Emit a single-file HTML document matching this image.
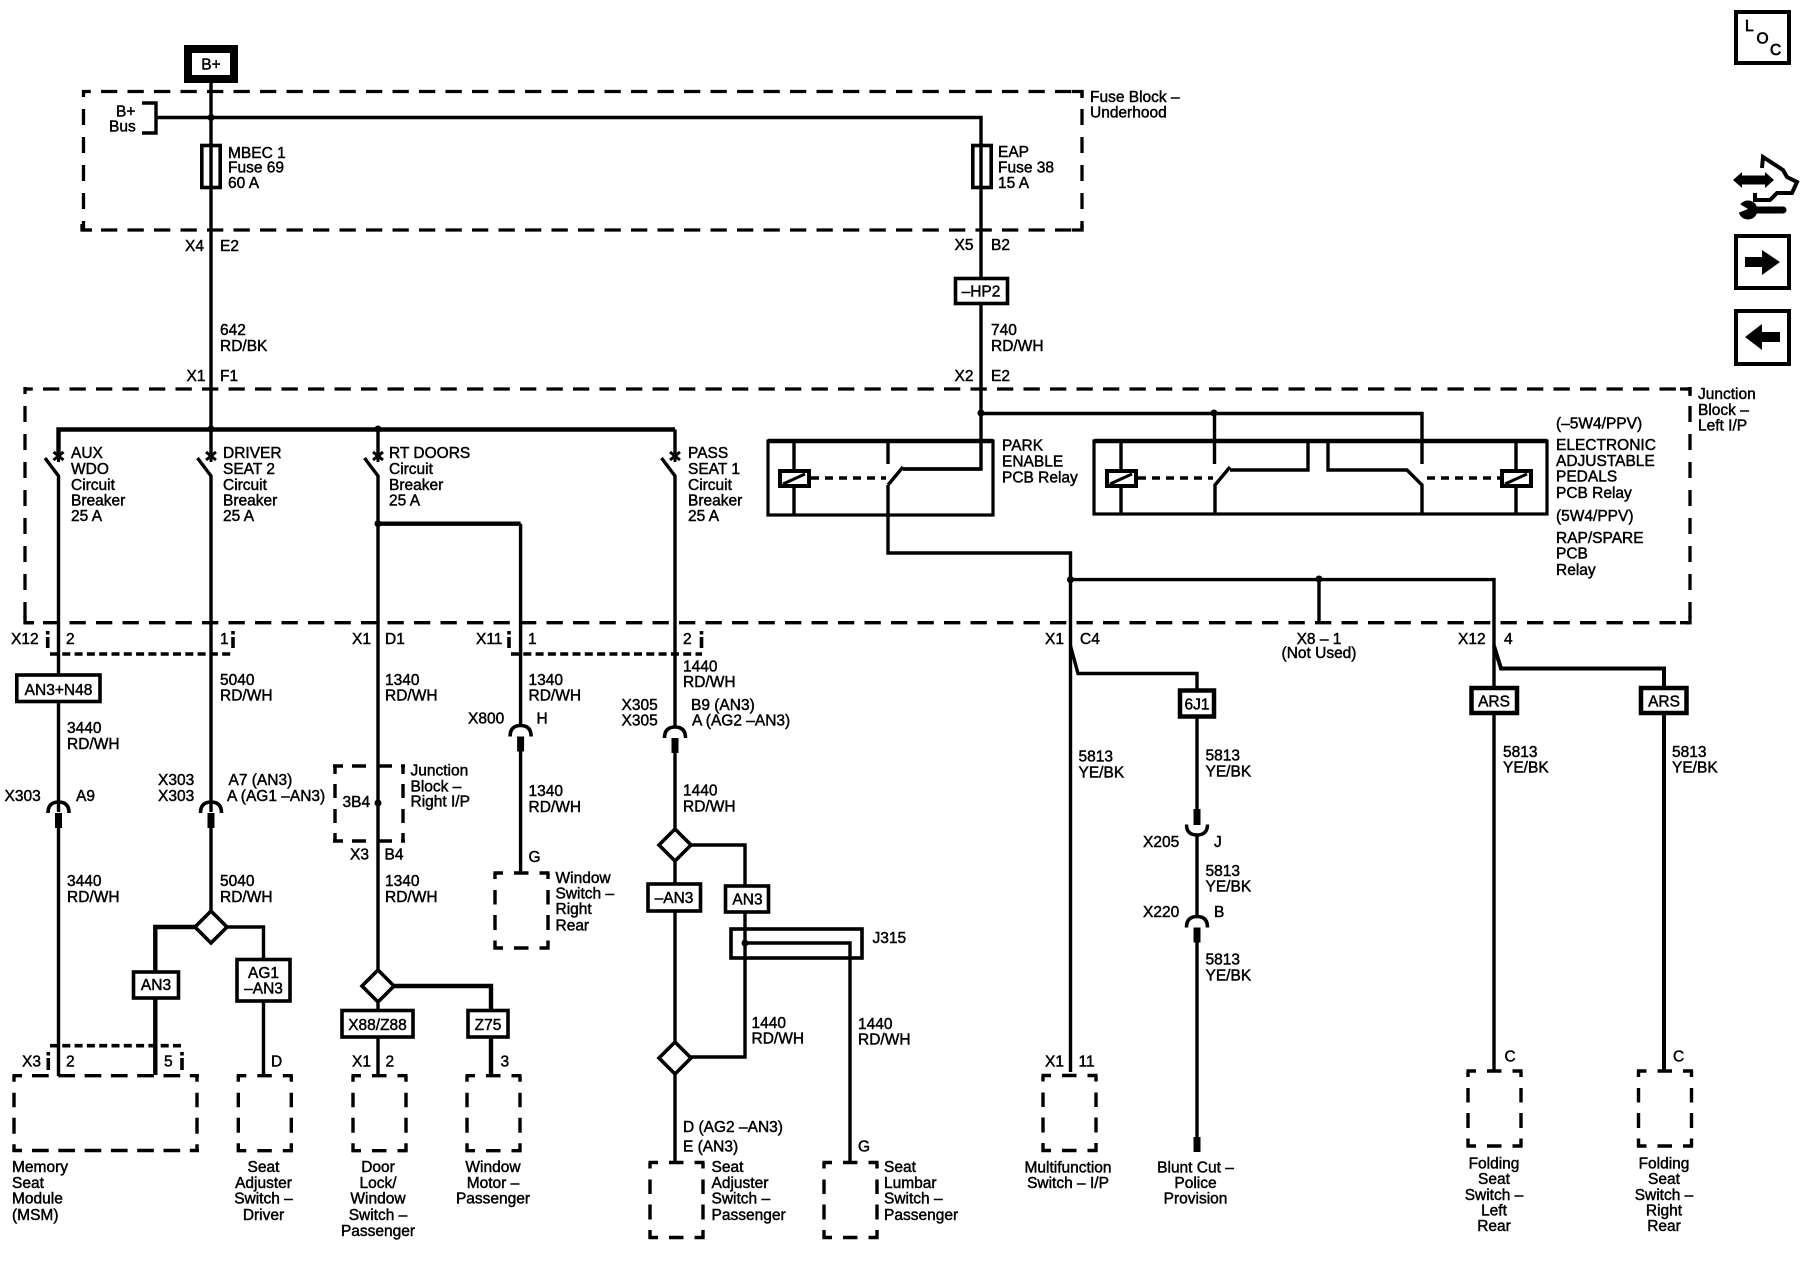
<!DOCTYPE html>
<html><head><meta charset="utf-8"><title>Wiring Diagram</title>
<style>
html,body{margin:0;padding:0;background:#fff}
svg{display:block}
text{font-family:"Liberation Sans",sans-serif;font-size:15.5px;fill:#000;stroke:#000;stroke-width:.45px}
.m{text-anchor:middle}.e{text-anchor:end}
.w{fill:none;stroke:#000;stroke-width:3.4;stroke-linejoin:miter}
.k{fill:none;stroke:#000;stroke-width:4.4}
.p{fill:none;stroke:#000;stroke-width:7}
.b{fill:#fff;stroke:#000;stroke-width:3.6}
.h{fill:none;stroke:#000;stroke-width:3.3;stroke-dasharray:16.3 10.2;stroke-dashoffset:7.5}
.v{fill:none;stroke:#000;stroke-width:3.3;stroke-dasharray:16 12;stroke-dashoffset:9}
.d{fill:none;stroke:#000;stroke-width:3.6;stroke-dasharray:8 4.3}
.c{fill:none;stroke:#000;stroke-width:3.3}
</style></head>
<body>
<svg xmlns="http://www.w3.org/2000/svg" width="1800" height="1280" viewBox="0 0 1800 1280">
<defs>
<g id="sb" fill="none" stroke="#000" stroke-width="3.4">
<path d="M-1.5,0H54.5" stroke-dasharray="9.5 11 14.5 11 10"/><path d="M-1.5,75H54.5" stroke-dasharray="9.5 11 14.5 11 10"/>
<path d="M0,0V76" stroke-dasharray="6 11 14.5 10.5 15 10.5 8.5"/><path d="M53,0V76" stroke-dasharray="6 11 14.5 10.5 15 10.5 8.5"/>
</g>
<path id="star" d="M-5,-4L5,4M5,-4L-5,4M0,-6V6" fill="none" stroke="#000" stroke-width="3"/>
<g id="arc"><path d="M-10.5,11Q-10.5,0 0,0Q10.5,0 10.5,11" fill="none" stroke="#000" stroke-width="3.6"/><path d="M0,11V26" stroke="#000" stroke-width="7"/></g>
<path id="dia" d="M0,-16L16,0L0,16L-16,0Z" fill="#fff" stroke="#000" stroke-width="3.6"/>
<g id="coil"><rect x="1" y="1" width="29" height="15" fill="#fff" stroke="#000" stroke-width="4"/><path d="M4,14L26,4" stroke="#000" stroke-width="3"/></g>
</defs>

<!-- B+ -->
<rect x="188" y="49" width="46" height="30" fill="#fff" stroke="#000" stroke-width="8"/>
<text class="m" x="211" y="69.5">B+</text>

<!-- Fuse block -->
<path class="h" d="M82,91.5H1082"/><path class="h" d="M82,230H1082"/>
<path class="v" d="M83.5,90V230"/><path class="v" d="M1082,90V230"/>
<path class="c" d="M1072,91.5H1082V98M1072,230H1082V224M82,224V230H92"/>

<path class="w" d="M142,103H156V133H142"/>
<path class="w" d="M156,117.5H981V469H903"/>
<path class="w" d="M211,83V430"/>
<circle cx="211" cy="117.5" r="3.5"/>
<rect x="201.8" y="145.5" width="18.4" height="42" class="b" style="fill:none"/>
<rect x="972.8" y="145.5" width="18.4" height="42" class="b" style="fill:none"/>

<text x="116" y="116.5">B+</text><text x="109" y="131.5">Bus</text>
<text x="228"><tspan x="228" y="158">MBEC 1</tspan><tspan x="228" y="172.5">Fuse 69</tspan><tspan x="228" y="188">60 A</tspan></text>
<text><tspan x="998" y="157">EAP</tspan><tspan x="998" y="172.5">Fuse 38</tspan><tspan x="998" y="188">15 A</tspan></text>
<text><tspan x="1090" y="102">Fuse Block –</tspan><tspan x="1090" y="117.5">Underhood</tspan></text>
<text x="185" y="251">X4</text><text x="220" y="251">E2</text>
<text x="954.5" y="250">X5</text><text x="991" y="250">B2</text>
<rect class="b" x="955.5" y="278.5" width="52" height="25"/>
<text class="m" x="981" y="296.5">–HP2</text>
<text><tspan x="220" y="335">642</tspan><tspan x="220" y="351">RD/BK</tspan></text>
<text><tspan x="991" y="335">740</tspan><tspan x="991" y="351">RD/WH</tspan></text>
<text x="186.5" y="381">X1</text><text x="220" y="381">F1</text>
<text x="954.5" y="381">X2</text><text x="991" y="381">E2</text>

<!-- Junction block left -->
<path class="h" d="M24,389H1690"/><path class="h" d="M24,622.7H1690"/>
<path class="v" d="M25,387V623"/><path class="v" d="M1690,387V623"/>
<path class="c" d="M1680,389H1690V396M1680,622.7H1690V616M25,616V622.7H34"/>
<text><tspan x="1698" y="399">Junction</tspan><tspan x="1698" y="415">Block –</tspan><tspan x="1698" y="430.5">Left I/P</tspan></text>

<!-- Top bus and breakers -->
<path class="k" d="M58.5,453V429.5H675"/>
<path class="w" d="M675,429.5V453M211,430V453M378,430V453"/>
<circle cx="211" cy="429" r="3.5"/><circle cx="378" cy="429" r="3.5"/>
<use href="#star" x="58.5" y="456"/><use href="#star" x="211" y="456"/><use href="#star" x="378" y="456"/><use href="#star" x="675" y="456"/>
<path class="w" d="M45,458L58.5,476V812M197.5,458L211,476V812M364.5,458L378,476V971M661.5,458L675,476V726"/>
<path class="k" d="M378,523.7H520.6"/>
<path class="w" d="M520.6,523.7V725"/>
<circle cx="378" cy="523.7" r="3.5"/>

<text><tspan x="71" y="458">AUX</tspan><tspan x="71" y="474">WDO</tspan><tspan x="71" y="490">Circuit</tspan><tspan x="71" y="505.5">Breaker</tspan><tspan x="71" y="521">25 A</tspan></text>
<text><tspan x="223" y="458">DRIVER</tspan><tspan x="223" y="474">SEAT 2</tspan><tspan x="223" y="490">Circuit</tspan><tspan x="223" y="505.5">Breaker</tspan><tspan x="223" y="521">25 A</tspan></text>
<text><tspan x="389" y="458">RT DOORS</tspan><tspan x="389" y="474">Circuit</tspan><tspan x="389" y="490">Breaker</tspan><tspan x="389" y="505.5">25 A</tspan></text>
<text><tspan x="688" y="458">PASS</tspan><tspan x="688" y="474">SEAT 1</tspan><tspan x="688" y="490">Circuit</tspan><tspan x="688" y="505.5">Breaker</tspan><tspan x="688" y="521">25 A</tspan></text>

<!-- Relay 1 -->
<rect x="768" y="441" width="225" height="74" fill="none" stroke="#000" stroke-width="3.2"/>
<path d="M768,441H993" stroke="#000" stroke-width="4.5"/>
<path class="w" d="M794,441V515"/>
<use href="#coil" x="779" y="470"/>
<path class="d" d="M811,478H886" style="stroke-dasharray:8 6"/>
<path class="w" d="M888,441V464M888,485L903,467M903,469H981M888,485V553H1070.5V1072"/>

<!-- Relay 2 -->
<rect x="1094" y="441" width="453" height="73" fill="none" stroke="#000" stroke-width="3.2"/>
<path d="M1094,441H1547" stroke="#000" stroke-width="4.5"/>
<path class="w" d="M1121,441V514M1516,441V514"/>
<use href="#coil" x="1106" y="470"/><use href="#coil" x="1501" y="470"/>
<path class="d" d="M1138,478H1213" style="stroke-dasharray:8 6"/>
<path class="d" d="M1427,478H1500" style="stroke-dasharray:8 6"/>
<path class="w" d="M981,413.5H1422V464M1214.5,413.5V464M1215,514V485L1230,467M1230,470H1308V441M1328,441V470H1407L1422,485V514"/>
<circle cx="981" cy="413" r="3.5"/><circle cx="1214" cy="413" r="3.5"/>
<text><tspan x="1002" y="450.5">PARK</tspan><tspan x="1002" y="466.5">ENABLE</tspan><tspan x="1002" y="482.5">PCB Relay</tspan></text>
<text x="1556" y="428.5">(–5W4/PPV)</text>
<text><tspan x="1556" y="450">ELECTRONIC</tspan><tspan x="1556" y="466">ADJUSTABLE</tspan><tspan x="1556" y="481.5">PEDALS</tspan><tspan x="1556" y="498">PCB Relay</tspan></text>
<text x="1556" y="521">(5W4/PPV)</text>
<text><tspan x="1556" y="543">RAP/SPARE</tspan><tspan x="1556" y="558.5">PCB</tspan><tspan x="1556" y="575">Relay</tspan></text>

<path class="w" d="M1070.5,579.6H1494V1071M1319,579.6V623"/>
<circle cx="1070.5" cy="579.6" r="3.5"/><circle cx="1319" cy="579" r="3.5"/>

<!-- Row of pin labels -->
<text x="11" y="644">X12</text><text x="66" y="644">2</text><text x="220" y="644">1</text>
<text x="352" y="644">X1</text><text x="385" y="644">D1</text><text x="476" y="644">X11</text><text x="528" y="644">1</text><text x="683" y="644">2</text>
<text x="1045" y="644">X1</text><text x="1080" y="644">C4</text><text class="m" x="1319" y="644">X8 – 1</text><text class="m" x="1319" y="658">(Not Used)</text><text x="1458" y="644">X12</text><text x="1504" y="644">4</text>

<!-- Small dashed connector bands -->
<path class="d" d="M50,654H232"/><path class="d" d="M511,654H702"/>
<path class="d" d="M47.7,631V648" style="stroke-dasharray:3.5 2.5 11 0"/><path class="d" d="M233,631V648" style="stroke-dasharray:3.5 2.5 11 0"/>
<path class="d" d="M509,631V648" style="stroke-dasharray:3.5 2.5 11 0"/><path class="d" d="M701.5,631V648" style="stroke-dasharray:3.5 2.5 11 0"/>

<!-- Column 1 -->
<rect class="b" x="16.8" y="675" width="83.2" height="26.5"/>
<text class="m" x="58.5" y="695">AN3+N48</text>
<text><tspan x="67" y="733">3440</tspan><tspan x="67" y="749">RD/WH</tspan></text>
<text x="4.5" y="801">X303</text><text x="76" y="801">A9</text>
<use href="#arc" x="58.5" y="802"/>
<path class="w" d="M58.5,828V1076"/>
<text><tspan x="67" y="886">3440</tspan><tspan x="67" y="902">RD/WH</tspan></text>
<!-- Column 2 -->
<text><tspan x="220" y="685">5040</tspan><tspan x="220" y="700.5">RD/WH</tspan></text>
<text><tspan x="158" y="785">X303</tspan><tspan x="158" y="801">X303</tspan></text>
<text x="228.5" y="785">A7 (AN3)</text><text x="227" y="801">A (AG1 –AN3)</text>
<use href="#arc" x="211" y="802"/>
<path class="w" d="M211,828V911"/>
<text><tspan x="220" y="886">5040</tspan><tspan x="220" y="902">RD/WH</tspan></text>
<path class="k" d="M211,927H155.3V972"/><path class="w" d="M211,927H263.5V960"/>
<use href="#dia" x="211" y="927"/>
<rect class="b" x="133.5" y="972" width="45" height="26"/><text class="m" x="156" y="990">AN3</text>
<path class="k" d="M155.3,998V1075"/>
<rect class="b" x="237" y="959.5" width="53" height="41.5"/><text class="m" x="263.5" y="978">AG1</text><text class="m" x="263.5" y="993.5">–AN3</text>
<path class="w" d="M263.5,1001V1076"/>
<!-- Memory connector -->
<path class="d" d="M50,1045.7H181"/><path class="d" d="M48.3,1052V1070" style="stroke-dasharray:3.5 2.5 12 0"/><path class="d" d="M182,1052V1070" style="stroke-dasharray:3.5 2.5 12 0"/>
<text x="22" y="1066.5">X3</text><text x="66" y="1066.5">2</text><text x="164" y="1066.5">5</text>
<path d="M12.5,1075.7H199" fill="none" stroke="#000" stroke-width="3.4" stroke-dasharray="9.5 10 16.7 9.6 16.7 9.6 16.7 9.6 16.7 9.6 16.7 9.6 16.7 9.6 10"/>
<path d="M12.5,1150.5H199" fill="none" stroke="#000" stroke-width="3.4" stroke-dasharray="9.5 10 16.7 9.6 16.7 9.6 16.7 9.6 16.7 9.6 16.7 9.6 16.7 9.6 10"/>
<path d="M14,1075.7V1152" fill="none" stroke="#000" stroke-width="3.4" stroke-dasharray="6 11 14.5 10.5 16 10.5 8.5"/>
<path d="M197,1075.7V1152" fill="none" stroke="#000" stroke-width="3.4" stroke-dasharray="6 11 14.5 10.5 16 10.5 8.5"/>
<text><tspan x="12" y="1172">Memory</tspan><tspan x="12" y="1188">Seat</tspan><tspan x="12" y="1203.5">Module</tspan><tspan x="12" y="1220">(MSM)</tspan></text>
<use href="#sb" x="238.3" y="1075.7"/>
<text x="271" y="1066.5">D</text>
<text class="m"><tspan x="263.5" y="1172">Seat</tspan><tspan x="263.5" y="1188">Adjuster</tspan><tspan x="263.5" y="1203.5">Switch –</tspan><tspan x="263.5" y="1220">Driver</tspan></text>

<!-- Column 3 -->
<text><tspan x="385" y="685">1340</tspan><tspan x="385" y="700.5">RD/WH</tspan></text>
<g fill="none" stroke="#000" stroke-width="3.4">
<path d="M333,766H405" stroke-dasharray="10 9 14 12 14 9 10"/><path d="M333,841H405" stroke-dasharray="10 9 14 12 14 9 10"/>
<path d="M335,766V841" stroke-dasharray="8 10 14 11 14 10 8"/><path d="M403,766V841" stroke-dasharray="8 10 14 11 14 10 8"/>
</g>
<circle cx="378" cy="803" r="3.5"/>
<text x="342.5" y="807">3B4</text>
<text><tspan x="410.5" y="775.5">Junction</tspan><tspan x="410.5" y="791.5">Block –</tspan><tspan x="410.5" y="806.5">Right I/P</tspan></text>
<text x="350" y="859.5">X3</text><text x="384.5" y="859.5">B4</text>
<text><tspan x="385" y="886">1340</tspan><tspan x="385" y="902">RD/WH</tspan></text>
<path class="k" d="M378,986H491V1010"/>
<use href="#dia" x="378" y="986"/>
<path class="w" d="M378,1002V1076"/>
<rect class="b" x="342" y="1010.5" width="71" height="26.5"/><text class="m" x="377.5" y="1030">X88/Z88</text>
<rect class="b" x="468" y="1010.5" width="40" height="26.5"/><text class="m" x="488" y="1030">Z75</text>
<path class="k" d="M491,1037V1076"/>
<text x="352" y="1066.5">X1</text><text x="385.5" y="1066.5">2</text><text x="500.5" y="1066.5">3</text>
<use href="#sb" x="353" y="1075.7"/><use href="#sb" x="467" y="1075.7"/>
<text class="m"><tspan x="378" y="1172">Door</tspan><tspan x="378" y="1188">Lock/</tspan><tspan x="378" y="1203.5">Window</tspan><tspan x="378" y="1220">Switch –</tspan><tspan x="378" y="1236">Passenger</tspan></text>
<text class="m"><tspan x="493" y="1172">Window</tspan><tspan x="493" y="1188">Motor –</tspan><tspan x="493" y="1203.5">Passenger</tspan></text>

<!-- Column 4 -->
<text><tspan x="528.5" y="685">1340</tspan><tspan x="528.5" y="700.5">RD/WH</tspan></text>
<text x="468" y="723.5">X800</text><text x="536.5" y="723.5">H</text>
<use href="#arc" x="520.6" y="725.5"/>
<path class="w" d="M520.6,751V873"/>
<text><tspan x="528.5" y="796">1340</tspan><tspan x="528.5" y="812">RD/WH</tspan></text>
<text x="528.5" y="862">G</text>
<use href="#sb" x="495" y="873"/>
<text><tspan x="555.5" y="883">Window</tspan><tspan x="555.5" y="898.5">Switch –</tspan><tspan x="555.5" y="914">Right</tspan><tspan x="555.5" y="930.5">Rear</tspan></text>

<!-- Column 5 -->
<text><tspan x="683" y="671.5">1440</tspan><tspan x="683" y="687">RD/WH</tspan></text>
<text><tspan x="621.5" y="710">X305</tspan><tspan x="621.5" y="725.5">X305</tspan></text>
<text x="691" y="710">B9 (AN3)</text><text x="692" y="725.5">A (AG2 –AN3)</text>
<use href="#arc" x="675" y="727"/>
<path class="w" d="M675,752V1162"/>
<text><tspan x="683" y="795.5">1440</tspan><tspan x="683" y="811.5">RD/WH</tspan></text>
<path class="w" d="M675,845H745V1057H675"/>
<use href="#dia" x="675" y="845"/><use href="#dia" x="675" y="1058"/>
<rect class="b" x="648" y="884" width="52.5" height="27"/><text class="m" x="674" y="903">–AN3</text>
<rect class="b" x="725.5" y="886" width="43" height="26"/><text class="m" x="747.5" y="904.5">AN3</text>
<rect x="731" y="929" width="131" height="29" fill="none" stroke="#000" stroke-width="3.6"/>
<path class="w" d="M745,943H850V1162"/><circle cx="745" cy="943" r="3.5"/>
<text x="872.5" y="943">J315</text>
<text><tspan x="751.5" y="1028">1440</tspan><tspan x="751.5" y="1043.5">RD/WH</tspan></text>
<text><tspan x="858" y="1029">1440</tspan><tspan x="858" y="1044.5">RD/WH</tspan></text>
<text x="683" y="1132">D (AG2 –AN3)</text><text x="683" y="1151.5">E (AN3)</text><text x="858" y="1151.5">G</text>
<use href="#sb" x="650" y="1162.5"/><use href="#sb" x="824" y="1162.5"/>
<text><tspan x="711.5" y="1172">Seat</tspan><tspan x="711.5" y="1188">Adjuster</tspan><tspan x="711.5" y="1203.5">Switch –</tspan><tspan x="711.5" y="1220">Passenger</tspan></text>
<text><tspan x="884" y="1172">Seat</tspan><tspan x="884" y="1188">Lumbar</tspan><tspan x="884" y="1203.5">Switch –</tspan><tspan x="884" y="1220">Passenger</tspan></text>

<!-- Column 6/7 -->
<path class="w" d="M1070.5,646L1078,673.5H1197V690"/>
<text><tspan x="1078.5" y="761.5">5813</tspan><tspan x="1078.5" y="777.5">YE/BK</tspan></text>
<text x="1045" y="1066.5">X1</text><text x="1078.5" y="1066.5">11</text>
<use href="#sb" x="1043" y="1075.5"/>
<text class="m"><tspan x="1068" y="1172.5">Multifunction</tspan><tspan x="1068" y="1188">Switch – I/P</tspan></text>

<rect class="b" x="1180" y="690.5" width="34" height="26" style="stroke-width:4.5"/><text class="m" x="1197" y="709.5">6J1</text>
<path class="w" d="M1197,717V809"/><path class="p" d="M1197,809V825"/>
<path class="w" d="M1186.5,824.5Q1186.5,835 1197,835Q1207.5,835 1207.5,824.5"/>
<path class="w" d="M1197,835V916"/>
<use href="#arc" x="1197" y="916.5"/>
<path class="w" d="M1197,942V1137"/><path class="p" d="M1197,1137V1152"/>
<text><tspan x="1205.5" y="760.5">5813</tspan><tspan x="1205.5" y="776.5">YE/BK</tspan></text>
<text><tspan x="1205.5" y="876">5813</tspan><tspan x="1205.5" y="891.5">YE/BK</tspan></text>
<text><tspan x="1205.5" y="964.5">5813</tspan><tspan x="1205.5" y="980.5">YE/BK</tspan></text>
<text x="1143" y="847">X205</text><text x="1214" y="847">J</text>
<text x="1143" y="917">X220</text><text x="1214" y="917">B</text>
<text class="m"><tspan x="1195.5" y="1172.5">Blunt Cut –</tspan><tspan x="1195.5" y="1188">Police</tspan><tspan x="1195.5" y="1203.5">Provision</tspan></text>

<path class="w" d="M1494,646L1501,668.5H1664V1071" style="stroke-width:4"/>
<rect class="b" x="1471.5" y="688" width="45.5" height="25" style="stroke-width:4.5"/><text class="m" x="1494" y="706.5">ARS</text>
<rect class="b" x="1641" y="688" width="45.5" height="25" style="stroke-width:4.5"/><text class="m" x="1664" y="706.5">ARS</text>
<text><tspan x="1503" y="757">5813</tspan><tspan x="1503" y="772.5">YE/BK</tspan></text>
<text><tspan x="1672" y="757">5813</tspan><tspan x="1672" y="772.5">YE/BK</tspan></text>
<text x="1504.5" y="1061.5">C</text><text x="1673" y="1061.5">C</text>
<use href="#sb" x="1468" y="1071"/><use href="#sb" x="1638.5" y="1071"/>
<text class="m"><tspan x="1494" y="1168.5">Folding</tspan><tspan x="1494" y="1184">Seat</tspan><tspan x="1494" y="1200">Switch –</tspan><tspan x="1494" y="1215.5">Left</tspan><tspan x="1494" y="1231">Rear</tspan></text>
<text class="m"><tspan x="1664" y="1168.5">Folding</tspan><tspan x="1664" y="1184">Seat</tspan><tspan x="1664" y="1200">Switch –</tspan><tspan x="1664" y="1215.5">Right</tspan><tspan x="1664" y="1231">Rear</tspan></text>

<!-- Right nav icons -->
<rect x="1736" y="12" width="53" height="51" fill="none" stroke="#000" stroke-width="4"/>
<text x="1745" y="31" style="stroke-width:.7">L</text><text x="1756.5" y="43.5" style="stroke-width:.7">O</text><text x="1770" y="55" style="stroke-width:.7">C</text>

<path d="M1733,180L1742,172V175.5H1765V172L1774,180L1765,188V184.5H1742V188Z" fill="#000"/>
<path d="M1762,168L1763,157L1783,170L1787,177L1797,182L1792,193L1777,193L1770,200L1755,200L1755,193" fill="none" stroke="#000" stroke-width="4"/>
<path d="M1750,210H1783" stroke="#000" stroke-width="7" stroke-linecap="round"/>
<circle cx="1748" cy="210" r="9.5"/>
<path d="M1738,203L1748,209L1738,213Z" fill="#fff"/>

<rect x="1736" y="236" width="53" height="52" fill="none" stroke="#000" stroke-width="4"/>
<path d="M1745,257H1762V250L1780,262L1762,275V267H1745Z" fill="#000"/>
<rect x="1736" y="311" width="53" height="53" fill="none" stroke="#000" stroke-width="4"/>
<path d="M1780,332H1762V324L1745,337L1762,350V342H1780Z" fill="#000"/>
</svg>
</body></html>
